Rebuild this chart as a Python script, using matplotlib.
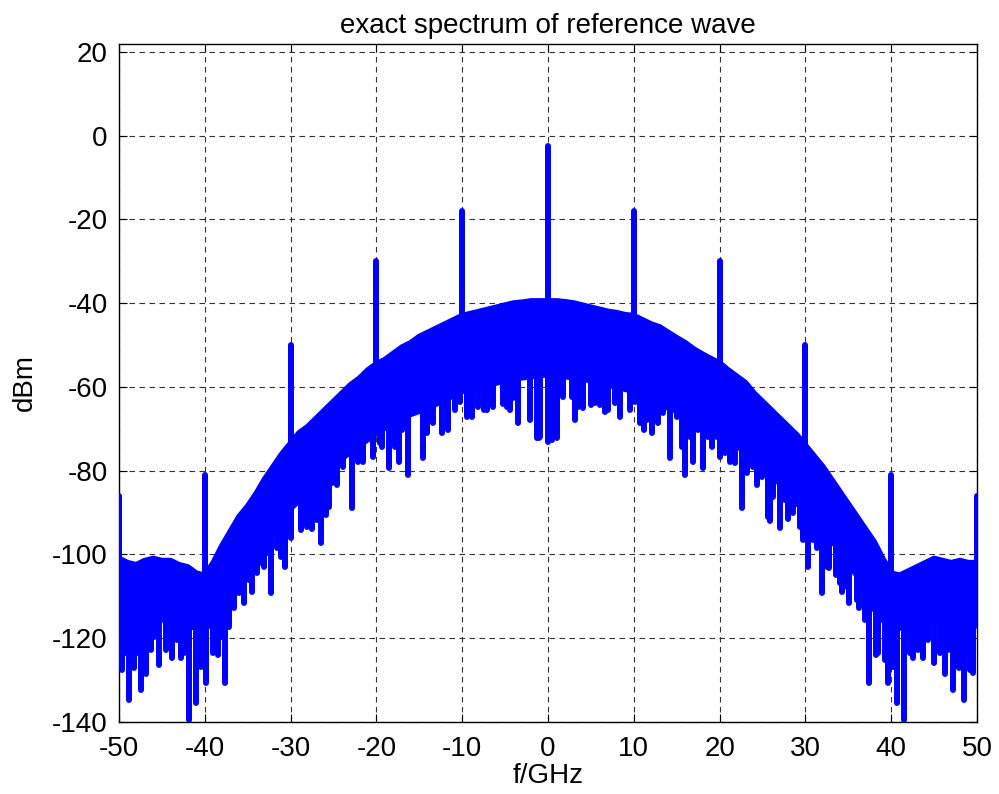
"""
exact spectrum of reference wave - redrawn from the picture
"""

import numpy as np
import matplotlib
matplotlib.use('Agg')
import matplotlib.pyplot as plt

plt.rcParams['font.family'] = ['Liberation Sans', 'DejaVu Sans']
plt.rcParams['axes.unicode_minus'] = False

# top edge of the noise band, every 1 GHz from -50 to 50
band_f = np.arange(-50, 51, 1)
band_top = [-101, -102, -102.5, -101.5, -101, -101.5, -101.5, -102.5, -103, -104.5,
            -105, -102, -98, -94.5, -91, -88.5, -85.5, -82, -79, -76,
            -73.5, -71, -69.5, -67.5, -65.5, -63.5, -61.5, -59.5, -58, -56,
            -54.5, -53.5, -52, -50.5, -49.5, -48, -47, -46, -45, -44,
            -43, -42.5, -42, -41.5, -41, -40.5, -40, -39.8, -39.5, -39.5,
            -39.5,
            -39.5, -39.7, -40, -40.5, -41, -41.5, -42, -42.3, -42.8, -43,
            -44, -45, -45.7, -47, -48.3, -49.5, -51, -52.2, -53.3, -54.3,
            -56, -57.5, -59, -61.5, -63.5, -65.5, -67.5, -69.5, -71.5, -74,
            -76.5, -79, -82, -85, -88, -91, -94, -97, -101, -104.5,
            -105, -104, -103, -102, -101, -101.5, -102, -101.5, -102, -102]

# bottom edge of the solid part of the band, every 2 GHz
low_f = np.arange(-50, 51, 2)
band_low = [-117, -116, -115, -116, -117, -118, -113, -105, -99, -94,
            -89, -85, -81, -77, -74, -71, -68.5, -66.5, -65, -63,
            -61, -60, -59, -58, -57.5, -57,
            -57.5, -58, -59, -60, -61, -63, -65, -66.5, -68.5, -71,
            -74, -77, -81, -85, -89, -94, -99, -105, -113, -118,
            -117, -116, -115, -116, -117]

# deep narrow dips below the band (GHz, dBm)
dip_f = [-49.6, -48.8, -48.2, -47.4, -46.8, -46.3, -45.3, -43.8, -42.8, -41.8,
         -41.0, -39.9, -38.5, -37.6, -36.6, -35.4, -34.5, -33.9, -33.1, -32.3,
         -31.6, -30.7, -30.0, -29.5, -28.6, -27.5, -26.5, -25.9, -25.2, -24.6,
         -22.8, -21.6, -20.4, -19.3, -18.5, -17.4, -16.3, -14.6, -14.1, -12.4,
         -11.6, -10.3, -8.9, -7.5, -6.4, -5.2, -4.4, -3.5, -1.3, -1.0,
         0.0, 1.0, 3.1, 4.1, 5.0, 6.1, 7.0, 8.4, 10.1, 11.2,
         12.1, 12.8, 14.2, 16.0, 16.9, 18.1, 19.1, 20.0, 21.2, 22.6,
         24.4, 25.9, 27.0, 28.0, 28.9, 29.7, 30.3, 31.4, 31.9, 32.7,
         33.6, 34.3, 35.1, 36.3, 37.4, 38.2, 39.6, 40.7, 41.5, 42.5,
         43.7, 45.0, 46.3, 47.2, 47.9, 48.5, 49.2]
dip_db = [-127.6, -134.7, -127, -132.4, -128.5, -122.8, -126.4, -124.7, -124.7, -139.5,
          -135.5, -130.7, -124, -130.7, -112.8, -111.6, -109, -104.4, -103, -109.2,
          -98.4, -103, -96, -87.7, -90.6, -94, -97.3, -90.6, -83, -83.4,
          -88.9, -77.9, -76.7, -74.3, -79.3, -77.9, -81, -77, -70.9, -71,
          -70.3, -63.6, -67.2, -65.5, -64.7, -64, -65.6, -68.7, -72.2, -72.2,
          -73.1, -72.2, -67.9, -65.1, -64.3, -64.3, -65.4, -67.1, -63.6, -70.3,
          -71, -68.7, -77, -81, -77.9, -79.3, -74.3, -76.7, -77.9, -88.9,
          -83.4, -92, -93.7, -91.5, -87.9, -96.5, -103, -98.4, -109.2, -103.3,
          -104.8, -109, -111.6, -112.8, -130.7, -124, -130.7, -135.5, -139.5, -124.7,
          -124.7, -126, -128.5, -132.4, -127, -134.7, -127.6]

# shorter dips between the deep ones (GHz, dBm)
short_f = [-49.2, -47.9, -45.9, -44.56, -43.2, -42.4, -40.48, -39.1, -38.15, -37.2,
           -36.0, -34.85, -33.5, -32.7, -31.15, -28.8, -28.05, -26.9, -25.5, -25.41,
           -23.86, -22.11, -20.94, -19.58, -17.83, -17.05, -15.3, -13.36, -10.84, -9.48,
           -8.12, -7.14, -4.81, -4.04, -2.1, -0.93,
           0.43, 1.79, 2.76, 3.54, 5.48, 6.64, 7.81, 9.56, 10.72, 11.5,
           12.47, 13.44, 15.0, 15.58, 16.55, 17.52, 18.68, 19.66, 20.63, 21.8,
           23.16, 23.93, 24.9, 25.1, 25.68, 26.26, 27.62, 28.6, 29.37, 30.85,
           32.48, 34.0, 34.81, 35.98, 36.95, 38.5, 39.28, 40.25, 42.19, 43.16,
           44.33, 45.69, 46.66, 47.63, 48.8, 49.57]
short_db = [-123.6, -123.6, -119.6, -122.8, -120.4, -123.6, -126.8, -123.6, -119.6, -117.2,
            -109.3, -106.1, -102.1, -99.7, -100.5, -94.2, -93.4, -91.8, -88.6, -79,
            -79, -77.8, -71.9, -73.5, -74.3, -70.3, -64.7, -68.7, -65.5, -67.1,
            -64.7, -65.5, -64.7, -62.7, -67.9, -71.9,
            -72.7, -62.3, -62.3, -64.7, -63.9, -65.9, -63.9, -65.5, -68.7, -67.9,
            -65.9, -66.3, -67.1, -74.3, -71.9, -70.3, -71.9, -71.9, -75.8, -78.2,
            -80.6, -79, -81.4, -79.8, -91, -86.2, -87, -90.2, -93.4, -96.5,
            -102.9, -106.9, -107.7, -110.9, -115.6, -123.6, -125.2, -126.8, -123.6, -122.8,
            -120.4, -123.6, -122.8, -125.2, -123.6, -128.4]

# discrete tones
tone_f = [-50, -40, -30, -20, -10, 0, 10, 20, 30, 40, 50]
tone_db = [-86, -81, -50, -30, -18, -2.4, -18, -30, -50, -81, -86]

x_ticks = np.arange(-50, 51, 10)
y_ticks = np.arange(-140, 21, 20)

blue = '#0000ff'
lw = 4.3

fig = plt.figure(figsize=(9.99, 7.94), dpi=100)
ax = fig.add_axes([0.1191, 0.0907, 0.8589, 0.8539])

# solid band as one polygon
poly_x = np.concatenate([band_f, low_f[::-1]])
poly_y = np.concatenate([band_top, band_low[::-1]])
ax.fill(poly_x, poly_y, color=blue, lw=lw, joinstyle='round', zorder=3)

# dips hang from the band's lower edge
for fs, ds in ((dip_f, dip_db), (short_f, short_db)):
    top = np.interp(fs, low_f, band_low) + 4
    dl = ax.vlines(fs, ds, top, colors=blue, lw=lw, zorder=3)
    dl.set_capstyle('round')

# tones rise from the band's top edge
tone_base = np.interp(tone_f, band_f, band_top) - 4
tl = ax.vlines(tone_f, tone_base, tone_db, colors=blue, lw=lw, zorder=3)
tl.set_capstyle('round')

ax.set_xlim(-50, 50)
ax.set_ylim(-140, 21.9)
ax.set_xticks(x_ticks)
ax.set_yticks(y_ticks)
ax.tick_params(direction='in', length=6, width=0.8, labelsize=20,
               top=True, right=True)
ax.tick_params(axis='x', pad=10)
ax.tick_params(axis='y', pad=8)
ax.grid(True, color='#333333', linestyle=(0, (5, 4)), linewidth=0.8, zorder=0)
ax.set_axisbelow(True)
for s in ax.spines.values():
    s.set_linewidth(1)

ax.set_title('exact spectrum of reference wave', fontsize=20, pad=8)
ax.set_xlabel('f/GHz', fontsize=20, labelpad=1)
ax.set_ylabel('dBm', fontsize=20, labelpad=10)

fig.savefig('out.png', dpi=100)
